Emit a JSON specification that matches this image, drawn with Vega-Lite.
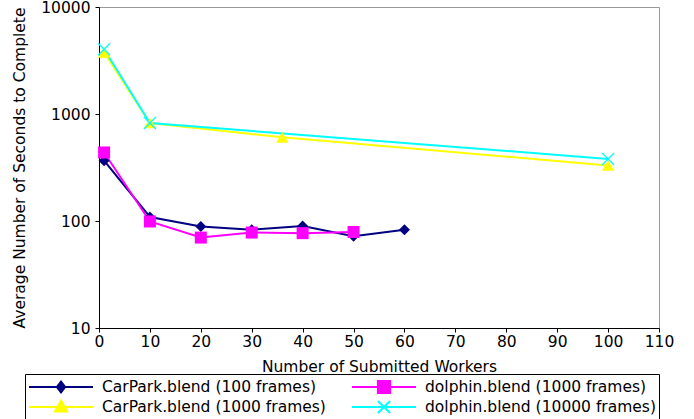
{
  "$schema": "https://vega.github.io/schema/vega-lite/v6.json",
  "autosize": "none",
  "width": 560,
  "height": 321,
  "padding": {"left": 99, "top": 7, "right": 35, "bottom": 91},
  "background": "white",
  "config": {
    "font": "DejaVu Sans",
    "view": {"stroke": "#999999"},
    "axis": {"grid": false, "labelFlush": false, "domainColor": "#000000", "tickColor": "#000000", "labelColor": "#000000", "titleColor": "#000000", "labelFontSize": 15.5, "titleFontSize": 15.5, "titleFontWeight": "normal", "labelFont": "DejaVu Sans", "titleFont": "DejaVu Sans"},
    "legend": {"labelFont": "DejaVu Sans", "labelFontSize": 15.5, "labelColor": "#000000", "labelLimit": 400}
  },
  "data": {"values": [
    {"series": "CarPark.blend (100 frames)", "workers": 1, "seconds": 366},
    {"series": "CarPark.blend (100 frames)", "workers": 10, "seconds": 109},
    {"series": "CarPark.blend (100 frames)", "workers": 20, "seconds": 89},
    {"series": "CarPark.blend (100 frames)", "workers": 30, "seconds": 83},
    {"series": "CarPark.blend (100 frames)", "workers": 40, "seconds": 90},
    {"series": "CarPark.blend (100 frames)", "workers": 50, "seconds": 72},
    {"series": "CarPark.blend (100 frames)", "workers": 60, "seconds": 83},
    {"series": "dolphin.blend (1000 frames)", "workers": 1, "seconds": 437},
    {"series": "dolphin.blend (1000 frames)", "workers": 10, "seconds": 99},
    {"series": "dolphin.blend (1000 frames)", "workers": 20, "seconds": 70},
    {"series": "dolphin.blend (1000 frames)", "workers": 30, "seconds": 78},
    {"series": "dolphin.blend (1000 frames)", "workers": 40, "seconds": 77},
    {"series": "dolphin.blend (1000 frames)", "workers": 50, "seconds": 79},
    {"series": "CarPark.blend (1000 frames)", "workers": 1, "seconds": 3766},
    {"series": "CarPark.blend (1000 frames)", "workers": 10, "seconds": 824},
    {"series": "CarPark.blend (1000 frames)", "workers": 36, "seconds": 605},
    {"series": "CarPark.blend (1000 frames)", "workers": 100, "seconds": 330},
    {"series": "dolphin.blend (10000 frames)", "workers": 1, "seconds": 4025},
    {"series": "dolphin.blend (10000 frames)", "workers": 10, "seconds": 824},
    {"series": "dolphin.blend (10000 frames)", "workers": 100, "seconds": 380}
  ]},
  "encoding": {
    "x": {"field": "workers", "type": "quantitative", "scale": {"domain": [0, 110], "nice": false},
      "axis": {"values": [0, 10, 20, 30, 40, 50, 60, 70, 80, 90, 100, 110], "title": "Number of Submitted Workers", "tickSize": 4, "labelPadding": 2, "titlePadding": 10}},
    "y": {"field": "seconds", "type": "quantitative", "scale": {"type": "log", "domain": [10, 10000], "nice": false},
      "axis": {"values": [10, 100, 1000, 10000], "format": "d", "title": "Average Number of Seconds to Complete", "tickSize": 4, "labelPadding": 5, "titleX": -72}}
  },
  "layer": [
    {
      "mark": {"type": "line", "strokeWidth": 2},
      "encoding": {
        "color": {
          "field": "series", "type": "nominal",
          "scale": {"domain": ["CarPark.blend (100 frames)", "dolphin.blend (1000 frames)", "CarPark.blend (1000 frames)", "dolphin.blend (10000 frames)"], "range": ["#000080", "#ff00ff", "#ffff00", "#00ffff"]},
          "legend": {
            "title": null, "orient": "none", "legendX": -74, "legendY": 367, "columns": 2, "direction": "horizontal",
            "strokeColor": "#000000", "padding": 3, "columnPadding": 25, "rowPadding": 0, "clipHeight": 20,
            "symbolSize": 4096, "labelOffset": 8, "symbolStrokeWidth": 2,
            "encode": {
              "symbols": {
                "update": {
                  "shape": {"signal": "datum.value === 'CarPark.blend (100 frames)' ? 'M-1,0H1M0,-0.17L0.13,0L0,0.17L-0.13,0Z' : datum.value === 'dolphin.blend (1000 frames)' ? 'M-1,0H1M-0.19,-0.19H0.19V0.19H-0.19Z' : datum.value === 'CarPark.blend (1000 frames)' ? 'M-1,0H1M0,-0.2L0.19,0.14L-0.19,0.14Z' : 'M-1,0H1M-0.19,-0.19L0.19,0.19M-0.19,0.19L0.19,-0.19'"},
                  "fill": {"scale": "color", "field": "value"},
                  "stroke": {"scale": "color", "field": "value"},
                  "strokeWidth": {"value": 2},
                  "size": {"value": 4096},
                  "opacity": {"value": 1}
                }
              }
            }
          }
        }
      }
    },
    {
      "transform": [{"filter": "datum.series === 'CarPark.blend (100 frames)'"}],
      "mark": {"type": "point", "shape": "diamond", "filled": true, "size": 121, "opacity": 1, "color": "#000080"}
    },
    {
      "transform": [{"filter": "datum.series === 'dolphin.blend (1000 frames)'"}],
      "mark": {"type": "point", "shape": "square", "filled": true, "size": 144, "opacity": 1, "color": "#ff00ff"}
    },
    {
      "transform": [{"filter": "datum.series === 'CarPark.blend (1000 frames)'"}],
      "mark": {"type": "point", "shape": "triangle-up", "filled": true, "size": 150, "opacity": 1, "color": "#ffff00"}
    },
    {
      "transform": [{"filter": "datum.series === 'dolphin.blend (10000 frames)'"}],
      "mark": {"type": "point", "shape": "M-1,-1L1,1M-1,1L1,-1", "filled": false, "size": 144, "opacity": 1, "strokeWidth": 1.3, "color": "#00ffff"}
    }
  ]
}
